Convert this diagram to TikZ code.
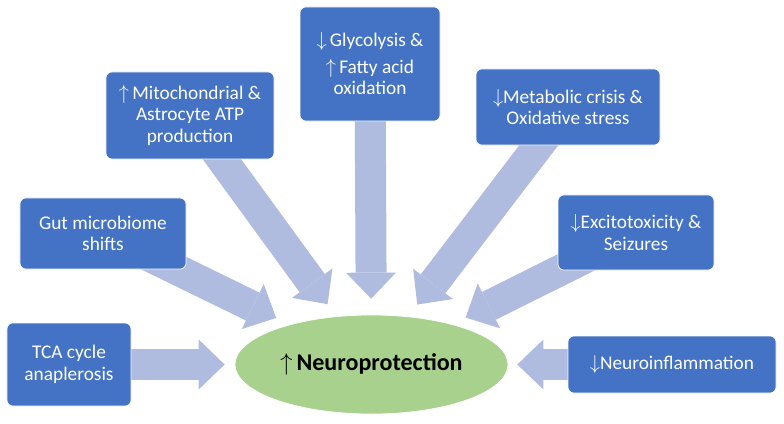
\documentclass[tikz,border=0pt]{standalone}
\usepackage{fontspec}
\setmainfont{Carlito}
\usetikzlibrary{arrows.meta,backgrounds,shapes.geometric}
\definecolor{qqttcc}{rgb}{0.267,0.447,0.769}
\definecolor{aaccxx}{rgb}{0.663,0.820,0.557}
\definecolor{aabbdd}{rgb}{0.690,0.737,0.875}

\begin{document}
\begin{tikzpicture}[line cap=butt,line join=round,x=0.03cm,y=-0.03cm,
  box/.style={draw=white,line width=0.6pt,fill=qqttcc,rounded corners=5pt,text=white,align=center,inner sep=2pt,font=\fontsize{16.5}{18.5}\selectfont},
  fat/.style={draw=aabbdd,line width=0.93cm,-{Triangle[length=0.78cm,width=1.5cm,line width=0pt]}}]
\useasboundingbox (0,0) rectangle (784,424);
% centre
\node[ellipse,fill=aaccxx,draw=white,line width=0.6pt,minimum width=8.19cm,minimum height=2.97cm,font=\fontsize{20.5}{24}\selectfont\bfseries] (np) at (371.5,364.5) {$\uparrow$\,Neuroprotection};
% boxes
\node[box,minimum width=3.72cm,minimum height=2.49cm] (tca) at (69,364.5) {TCA cycle\\anaplerosis};
\node[box,minimum width=4.98cm,minimum height=2.13cm] (gut) at (103,233.5) {Gut microbiome\\shifts};
\node[box,minimum width=5.04cm,minimum height=2.61cm] (mito) at (190,115.5) {$\uparrow$\,Mitochondrial \&\\Astrocyte ATP\\production};
\node[box,minimum width=4.2cm,minimum height=3.42cm] (glyc) at (370,64) {$\downarrow$\,Glycolysis \&\\[4pt]$\uparrow$\,Fatty acid\\oxidation};
\node[box,minimum width=5.52cm,minimum height=2.28cm] (meta) at (568,107) {$\downarrow$Metabolic crisis \&\\Oxidative stress};
\node[box,minimum width=4.68cm,minimum height=2.25cm] (exci) at (636,232.5) {$\downarrow$Excitotoxicity \&\\Seizures};
\node[box,minimum width=6.24cm,minimum height=1.71cm] (infl) at (672,364.5) {$\downarrow$Neuroinflammation};
% arrows behind the boxes
\begin{scope}[on background layer]
\fill[white] (0,0) rectangle (784,424);
\draw[fat,shorten >=0.3cm] (tca.center) -- (np);
\draw[fat,shorten >=0.27cm] (infl.center) -- (np);
\draw[fat,shorten >=0.48cm] (glyc.center) -- (np);
\foreach \b in {gut,mito,meta,exci}
  \draw[fat,shorten >=0.45cm] (\b.center) -- (np);
\end{scope}
\end{tikzpicture}
\end{document}
